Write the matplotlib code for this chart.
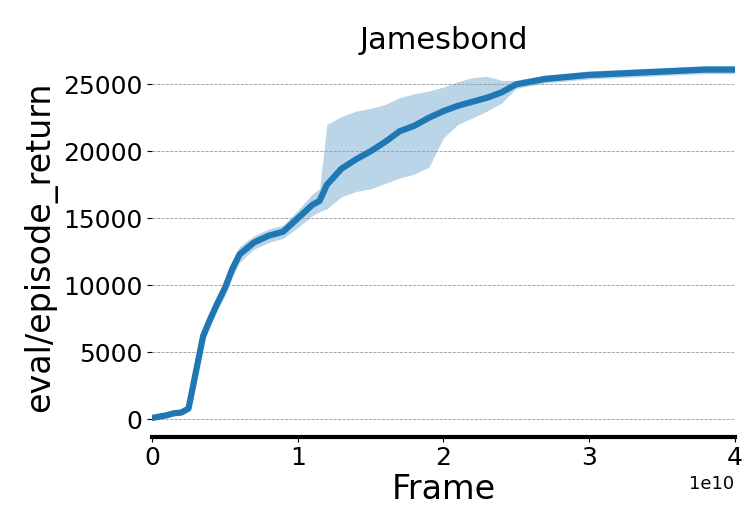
import matplotlib
matplotlib.use('Agg')
import matplotlib.pyplot as plt
import numpy as np

# frames (x1e10), mean return, band low/high
frames = [0, 0.1, 0.15, 0.2, 0.25, 0.3, 0.35, 0.4, 0.45, 0.5, 0.55, 0.6, 0.7, 0.8, 0.9, 1.0,
          1.1, 1.15, 1.2, 1.3, 1.4, 1.5, 1.6, 1.7, 1.8, 1.9, 2.0, 2.1, 2.2, 2.3, 2.4,
          2.5, 2.6, 2.7, 2.8, 2.9, 3.0, 3.2, 3.4, 3.6, 3.8, 4.0]
mean = [100, 300, 450, 500, 800, 3500, 6200, 7500, 8700, 9800, 11200, 12300, 13200, 13700, 14000, 15000,
        16000, 16300, 17500, 18700, 19400, 20000, 20700, 21500, 21900, 22500, 23000, 23400, 23700, 24000, 24400,
        25000, 25200, 25400, 25500, 25600, 25700, 25800, 25900, 26000, 26100, 26100]
low = [0, 200, 350, 400, 600, 3000, 5700, 7000, 8200, 9200, 10600, 11700, 12700, 13200, 13500, 14300,
       15200, 15500, 15700, 16600, 17000, 17200, 17600, 18000, 18300, 18800, 21000, 22000, 22500, 23000, 23600,
       24700, 24900, 25100, 25200, 25300, 25400, 25500, 25600, 25700, 25800, 25800]
high = [200, 400, 550, 600, 1000, 4000, 6700, 8000, 9200, 10400, 11800, 12900, 13700, 14200, 14500, 15600,
        16800, 17200, 22000, 22600, 23000, 23200, 23500, 24000, 24300, 24500, 24800, 25200, 25500, 25600, 25300,
        25300, 25500, 25700, 25800, 25900, 26000, 26100, 26200, 26300, 26400, 26400]

x = np.array(frames) * 1e10

fig, ax = plt.subplots(figsize=(7.42, 5.23), dpi=100)
ax.fill_between(x, low, high, color='#1f77b4', alpha=0.3, linewidth=0)
ax.plot(x, mean, color='#1f77b4', linewidth=4.5)

ax.set_xlim(0, 4e10)
ax.set_ylim(-1300, 27000)
ax.set_yticks([0, 5000, 10000, 15000, 20000, 25000])
ax.set_xticks([0, 1e10, 2e10, 3e10, 4e10])
ax.yaxis.grid(True, linestyle='--', linewidth=0.6, color='#999999')
for s in ['top', 'right', 'left']:
    ax.spines[s].set_visible(False)
ax.spines['bottom'].set_linewidth(3)
ax.tick_params(labelsize=18)
ax.xaxis.get_offset_text().set_fontsize(13)
ax.set_title('Jamesbond', fontsize=22)
ax.set_xlabel('Frame', fontsize=24, labelpad=2)
ax.set_ylabel('eval/episode_return', fontsize=24)
fig.subplots_adjust(left=0.205, right=0.99, top=0.89, bottom=0.165)
fig.savefig('out.png')
